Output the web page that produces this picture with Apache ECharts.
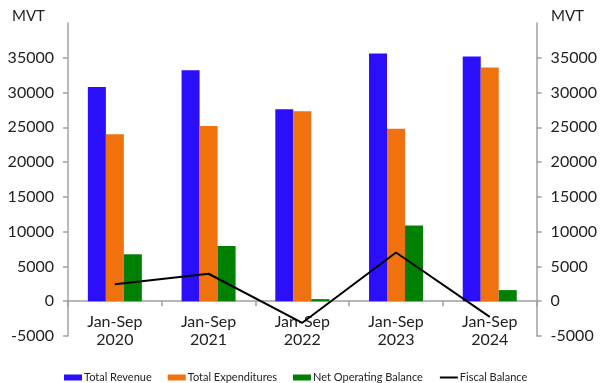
<!DOCTYPE html>
<html>
<head>
<meta charset="utf-8">
<script src="https://cdn.jsdelivr.net/npm/echarts@6/dist/echarts.min.js"></script>
<style>
  html, body { margin: 0; padding: 0; background: #fff; }
  #chart { width: 600px; height: 383px; }
</style>
</head>
<body>
<div id="chart"></div>
<script>
// Government fiscal operations, Jan-Sep of each year (million vatu)
const categories = ['Jan-Sep\n2020', 'Jan-Sep\n2021', 'Jan-Sep\n2022', 'Jan-Sep\n2023', 'Jan-Sep\n2024'];
const totalRevenue = [30800, 33200, 27600, 35600, 35200];
const totalExpenditures = [24000, 25200, 27300, 24800, 33600];
const netOperatingBalance = [6750, 7950, 300, 10900, 1600];
const fiscalBalance = [2450, 3950, -3100, 7000, -2250];
const unitLabel = 'MVT';

const FONT = 'Lato, "Open Sans", sans-serif';
const AXIS_GREY = '#a0a0a0';
const TEXT = '#222';
const Y_MIN = -5000, Y_MAX = 40000, Y_STEP = 5000;

function valueAxis(position) {
  return {
    type: 'value',
    position: position,
    min: Y_MIN,
    max: Y_MAX,
    interval: Y_STEP,
    splitLine: { show: false },
    axisLine: { show: true, lineStyle: { color: AXIS_GREY, width: 1.5 } },
    axisTick: { show: true, length: 5, lineStyle: { color: AXIS_GREY, width: 1.5 } },
    axisLabel: {
      showMaxLabel: false,
      margin: 14,
      color: TEXT,
      fontFamily: FONT,
      fontSize: 16,
      formatter: v => String(v)
    }
  };
}

const el = document.getElementById('chart');
const chart = echarts.init(el, null, { renderer: 'canvas' });

// plot area
const GRID = { left: 68, right: 61, top: 23, bottom: 47 };
const plotH = 383 - GRID.top - GRID.bottom;
// lift the category axis from the bottom edge up to the zero line
const zeroLift = plotH * (0 - Y_MIN) / (Y_MAX - Y_MIN);

chart.setOption({
  animation: false,
  textStyle: { fontFamily: FONT },
  grid: Object.assign({ containLabel: false }, GRID),
  graphic: [
    { type: 'text', left: 12, top: 9, style: { text: unitLabel, fontFamily: FONT, fontSize: 15, fill: TEXT } },
    { type: 'text', left: 551, top: 9, style: { text: unitLabel, fontFamily: FONT, fontSize: 15, fill: TEXT } }
  ],
  legend: {
    left: 59,
    top: 367,
    itemWidth: 18,
    itemHeight: 6,
    itemGap: 16,
    textStyle: { fontFamily: FONT, fontSize: 11, color: TEXT, padding: [0, 0, 0, -3] },
    data: [
      { name: 'Total Revenue', icon: 'rect' },
      { name: 'Total Expenditures', icon: 'rect' },
      { name: 'Net Operating Balance', icon: 'rect' },
      { name: 'Fiscal Balance', itemStyle: { opacity: 0 } }
    ]
  },
  xAxis: {
    type: 'category',
    data: categories,
    position: 'bottom',
    offset: -zeroLift,
    axisLine: { onZero: false, lineStyle: { color: AXIS_GREY, width: 1.5 } },
    axisTick: { show: true, length: 5, lineStyle: { color: AXIS_GREY, width: 1.5 } },
    axisLabel: {
      margin: 12,
      color: TEXT,
      fontFamily: FONT,
      fontSize: 16,
      lineHeight: 18
    }
  },
  yAxis: [valueAxis('left'), valueAxis('right')],
  series: [
    {
      name: 'Total Revenue', type: 'bar', data: totalRevenue,
      barWidth: 18, barGap: '0%',
      itemStyle: { color: '#2b0ffb' }
    },
    {
      name: 'Total Expenditures', type: 'bar', data: totalExpenditures,
      barWidth: 18, barGap: '0%',
      itemStyle: { color: '#f0720e' }
    },
    {
      name: 'Net Operating Balance', type: 'bar', data: netOperatingBalance,
      barWidth: 18, barGap: '0%',
      itemStyle: { color: '#008000' }
    },
    {
      name: 'Fiscal Balance', type: 'line', data: fiscalBalance,
      symbol: 'none', showSymbol: false, z: 5,
      lineStyle: { color: '#000', width: 2 },
      itemStyle: { color: '#000' }
    }
  ]
});
</script>
</body>
</html>
